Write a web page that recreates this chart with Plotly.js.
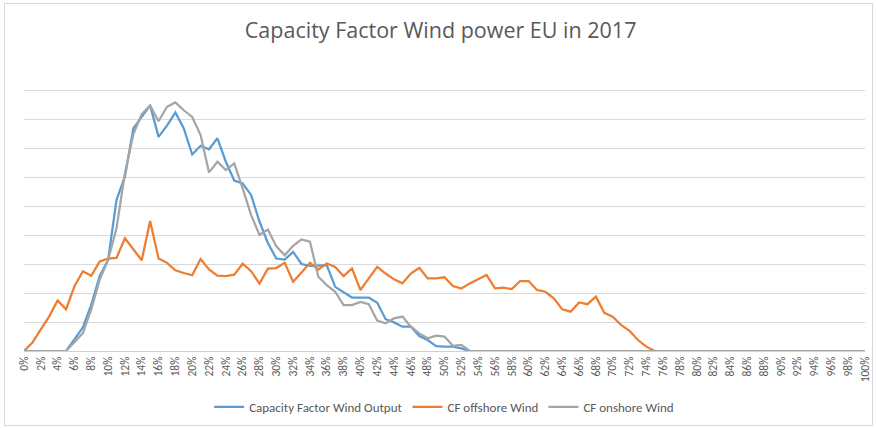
<!DOCTYPE html>
<html>
<head>
<meta charset="utf-8">
<script src="https://cdn.plot.ly/plotly-3.0.1.min.js"></script>
<style>
html,body{margin:0;padding:0;background:#fff;}
#wrap{position:relative;width:876px;height:428px;}
#chart{position:absolute;left:0;top:0;width:876px;height:428px;}
#frame{position:absolute;left:4px;top:3px;width:867px;height:421px;border:1px solid #d9d9d9;pointer-events:none;}
</style>
</head>
<body>
<div id="wrap"><div id="chart"></div><div id="frame"></div></div>
<script>
const categories = ["0%","1%","2%","3%","4%","5%","6%","7%","8%","9%","10%","11%","12%","13%","14%","15%","16%","17%","18%","19%","20%","21%","22%","23%","24%","25%","26%","27%","28%","29%","30%","31%","32%","33%","34%","35%","36%","37%","38%","39%","40%","41%","42%","43%","44%","45%","46%","47%","48%","49%","50%","51%","52%","53%","54%","55%","56%","57%","58%","59%","60%","61%","62%","63%","64%","65%","66%","67%","68%","69%","70%","71%","72%","73%","74%","75%","76%","77%","78%","79%","80%","81%","82%","83%","84%","85%","86%","87%","88%","89%","90%","91%","92%","93%","94%","95%","96%","97%","98%","99%","100%"];

const tickLabels = ["0%","2%","4%","6%","8%","10%","12%","14%","16%","18%","20%","22%","24%","26%","28%","30%","32%","34%","36%","38%","40%","42%","44%","46%","48%","50%","52%","54%","56%","58%","60%","62%","64%","66%","68%","70%","72%","74%","76%","78%","80%","82%","84%","86%","88%","90%","92%","94%","96%","98%","100%"];

const windOutput = [0,0,0,0,0,0,0.4,0.82,1.6,2.6,3.15,5.23,6.03,7.7,8.1,8.5,7.41,7.8,8.25,7.7,6.8,7.1,6.98,7.36,6.55,5.9,5.8,5.4,4.48,3.74,3.2,3.16,3.43,3.01,2.95,2.95,2.97,2.22,2.02,1.85,1.85,1.85,1.67,1.1,0.99,0.84,0.84,0.52,0.38,0.17,0.15,0.15,0.09,0,0,0,0,0,0,0,0,0,0,0,0,0,0,0,0,0,0,0,0,0,0,0,0,0,0,0,0,0,0,0,0,0,0,0,0,0,0,0,0,0,0,0,0,0,0,0,0];

const offshore = [0,0.29,0.75,1.2,1.75,1.44,2.24,2.76,2.6,3.1,3.2,3.22,3.9,3.5,3.14,4.5,3.2,3.05,2.79,2.7,2.62,3.18,2.82,2.61,2.59,2.64,3.02,2.76,2.33,2.85,2.87,3.05,2.4,2.72,3.05,2.82,3.03,2.91,2.59,2.86,2.11,2.51,2.91,2.68,2.48,2.34,2.68,2.88,2.51,2.51,2.55,2.25,2.16,2.34,2.49,2.63,2.17,2.19,2.14,2.42,2.42,2.11,2.05,1.82,1.44,1.36,1.68,1.62,1.88,1.32,1.19,0.9,0.7,0.38,0.15,0,0,0,0,0,0,0,0,0,0,0,0,0,0,0,0,0,0,0,0,0,0,0,0,0,0];

const onshore = [0,0,0,0,0,0,0.3,0.62,1.44,2.47,3.15,4.25,6.15,7.5,8.2,8.5,7.95,8.45,8.6,8.33,8.1,7.47,6.18,6.55,6.26,6.49,5.63,4.71,4.02,4.2,3.62,3.31,3.64,3.86,3.78,2.57,2.28,2.05,1.59,1.59,1.7,1.62,1.05,0.96,1.13,1.19,0.84,0.61,0.44,0.53,0.5,0.18,0.21,0,0,0,0,0,0,0,0,0,0,0,0,0,0,0,0,0,0,0,0,0,0,0,0,0,0,0,0,0,0,0,0,0,0,0,0,0,0,0,0,0,0,0,0,0,0,0,0];

const seriesNames = ["Capacity Factor Wind Output","CF offshore Wind","CF onshore Wind"];
const seriesColors = ["#5B9BD5","#ED7D31","#A5A5A5"];
const seriesValues = [windOutput, offshore, onshore];

const FONT = "Carlito, Calibri, Lato, sans-serif";
const TITLE_FONT = "'Open Sans', sans-serif";

const traces = seriesValues.map((vals, k) => ({
  type: "scatter",
  mode: "lines",
  x: categories,
  y: vals,
  name: seriesNames[k],
  line: {color: seriesColors[k], width: 2.25, shape: "linear"},
  hoverinfo: "x+y+name"
}));

const tickVals = categories.filter((c) => tickLabels.indexOf(c) >= 0);

const layout = {
  width: 876,
  height: 428,
  margin: {l: 24, r: 11, t: 62, b: 77, pad: 0},
  paper_bgcolor: "#ffffff",
  plot_bgcolor: "#ffffff",
  font: {family: FONT, color: "#595959", size: 12},
  title: {
    text: "Capacity Factor Wind power EU in 2017",
    font: {family: TITLE_FONT, size: 21.5, color: "#595959"},
    x: 0.503, xref: "container", xanchor: "center",
    y: 0.928, yref: "container", yanchor: "middle"
  },
  showlegend: true,
  legend: {
    orientation: "h",
    xref: "container", x: 0.507, xanchor: "center",
    yref: "container", y: 0.049, yanchor: "middle",
    font: {family: FONT, size: 13, color: "#595959"},
    itemwidth: 30,
    traceorder: "normal"
  },
  xaxis: {
    type: "category",
    range: [0, 100],
    tickmode: "array",
    tickvals: tickVals,
    ticktext: tickLabels,
    tickangle: -90,
    tickfont: {family: FONT, size: 11.5, color: "#595959"},
    showgrid: false,
    showline: true,
    linecolor: "#d0d0d0",
    linewidth: 1,
    ticks: "",
    zeroline: false,
    fixedrange: true
  },
  yaxis: {
    range: [0, 10],
    dtick: 1,
    showticklabels: false,
    showgrid: true,
    gridcolor: "#d9d9d9",
    gridwidth: 1,
    zeroline: false,
    showline: false,
    ticks: "",
    fixedrange: true
  }
};

Plotly.newPlot("chart", traces, layout, {displayModeBar: false, staticPlot: true});
</script>
</body>
</html>
